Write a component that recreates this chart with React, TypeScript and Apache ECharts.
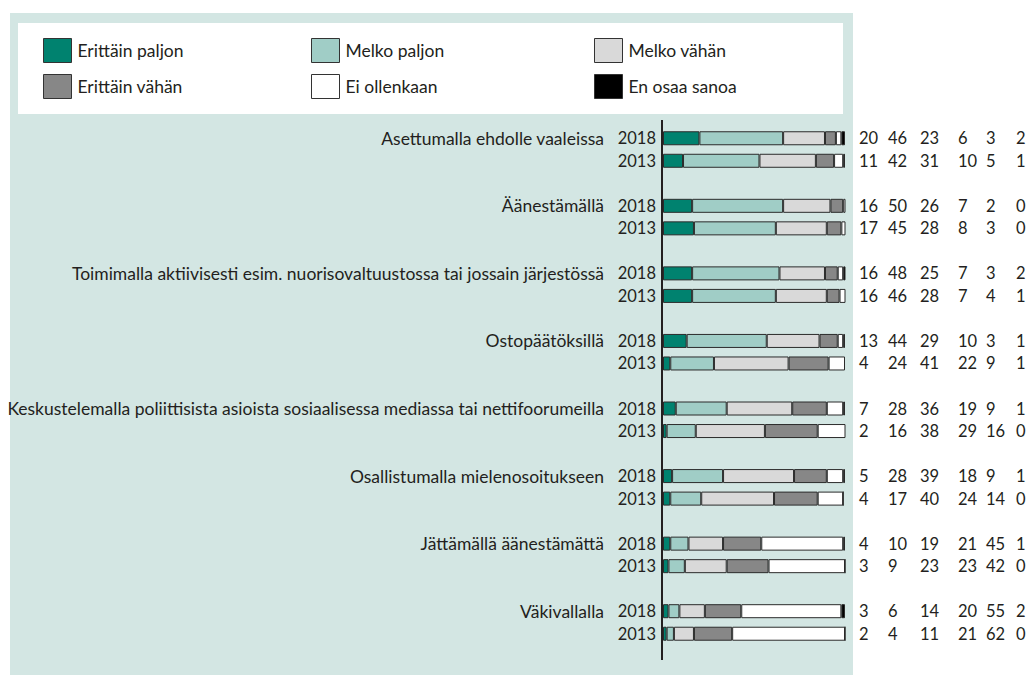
import React, { useEffect, useRef } from "react";
import * as echarts from "echarts";

const questions = [
  "Asettumalla ehdolle vaaleissa",
  "Äänestämällä",
  "Toimimalla aktiivisesti esim. nuorisovaltuustossa tai jossain järjestössä",
  "Ostopäätöksillä",
  "Keskustelemalla poliittisista asioista sosiaalisessa mediassa tai nettifoorumeilla",
  "Osallistumalla mielenosoitukseen",
  "Jättämällä äänestämättä",
  "Väkivallalla",
];

const years = ["2018", "2013"];

const seriesNames = [
  "Erittäin paljon",
  "Melko paljon",
  "Melko vähän",
  "Erittäin vähän",
  "Ei ollenkaan",
  "En osaa sanoa",
];

const values2018 = [
  [20, 46, 23, 6, 3, 2],
  [16, 50, 26, 7, 2, 0],
  [16, 48, 25, 7, 3, 2],
  [13, 44, 29, 10, 3, 1],
  [7, 28, 36, 19, 9, 1],
  [5, 28, 39, 18, 9, 1],
  [4, 10, 19, 21, 45, 1],
  [3, 6, 14, 20, 55, 2],
];

const values2013 = [
  [11, 42, 31, 10, 5, 1],
  [17, 45, 28, 8, 3, 0],
  [16, 46, 28, 7, 4, 1],
  [4, 24, 41, 22, 9, 1],
  [2, 16, 38, 29, 16, 0],
  [4, 17, 40, 24, 14, 0],
  [3, 9, 23, 23, 42, 0],
  [2, 4, 11, 21, 62, 0],
];

const colors = ["#00826f", "#a0cdc6", "#d9d9d9", "#878787", "#ffffff", "#000000"];

const TEXT = "#231f20";
const FONT = "Lato";

export default function App() {
  const ref = useRef<HTMLDivElement>(null);

  useEffect(() => {
    if (!ref.current) return;
    const chart = echarts.init(ref.current, null, { renderer: "svg" });

    // slots: for each question -> 2018, 2013, gap
    const slots: { q: number; y: number }[] = [];
    questions.forEach((_, qi) => {
      slots.push({ q: qi, y: 0 });
      slots.push({ q: qi, y: 1 });
      slots.push({ q: qi, y: -1 });
    });
    const cats = slots.map((s, i) => String(i));

    const rowVals = (s: { q: number; y: number }) =>
      s.y === 0 ? values2018[s.q] : s.y === 1 ? values2013[s.q] : null;

    const series = seriesNames.map((name, si) => ({
      name,
      type: "bar",
      stack: "total",
      barWidth: 14,
      itemStyle: { color: colors[si], borderColor: "#2b2b2b", borderWidth: 1 },
      emphasis: { disabled: true },
      data: slots.map((s) => {
        const v = rowVals(s);
        return v ? v[si] : null;
      }),
    }));

    const legendPos = [
      [43, 38],
      [311, 38],
      [594, 38],
      [43, 74],
      [311, 74],
      [594, 74],
    ];

    const legends = seriesNames.map((name, i) => ({
      data: [name],
      left: legendPos[i][0],
      top: legendPos[i][1],
      orient: "horizontal",
      itemWidth: 28,
      itemHeight: 24,
      itemGap: 0,
      padding: 0,
      icon: "rect",
      selectedMode: false,
      itemStyle: { borderColor: "#333", borderWidth: 1 },
      textStyle: { color: TEXT, fontSize: 17.5, fontFamily: FONT, padding: [0, 0, 0, 1] },
    }));

    chart.setOption({
      animation: false,
      textStyle: { fontFamily: FONT },
      graphic: [
        {
          type: "rect",
          z: -10,
          shape: { x: 10, y: 13, width: 843, height: 670 },
          style: { fill: "#d3e6e3" },
          silent: true,
        },
        {
          type: "rect",
          z: -9,
          shape: { x: 18, y: 23, width: 825, height: 91 },
          style: { fill: "#ffffff" },
          silent: true,
        },
        {
          type: "line",
          z: 10,
          shape: { x1: 662, y1: 120, x2: 662, y2: 660 },
          style: { stroke: TEXT, lineWidth: 2 },
          silent: true,
        },
      ],
      legend: legends,
      grid: { left: 663, top: 127, width: 182, height: 540.5, containLabel: false },
      xAxis: {
        type: "value",
        min: 0,
        max: 100,
        show: false,
      },
      yAxis: [
        {
          type: "category",
          data: cats,
          inverse: true,
          axisLine: { show: false },
          axisTick: { show: false },
          axisLabel: {
            interval: 0,
            margin: 7,
            color: TEXT,
            fontSize: 16,
            fontFamily: FONT,
            formatter: (val: string) => {
              const s = slots[Number(val)];
              if (s.y === -1) return "";
              if (s.y === 0) return `{q|${questions[s.q]}}{y|${years[0]}}`;
              return `{y|${years[1]}}`;
            },
            rich: {
              q: { color: TEXT, fontSize: 17.5, fontFamily: FONT, padding: [0, 12, 0, 0] },
              y: { color: TEXT, fontSize: 16.5, fontFamily: FONT, width: 40, align: "right" },
            },
          },
        },
        {
          type: "category",
          data: cats,
          inverse: true,
          position: "right",
          axisLine: { show: false },
          axisTick: { show: false },
          axisLabel: {
            interval: 0,
            margin: 14,
            color: TEXT,
            fontSize: 16.5,
            fontFamily: FONT,
            formatter: (val: string) => {
              const s = slots[Number(val)];
              const v = rowVals(s);
              if (!v) return "";
              return v.map((n, i) => `{c${i}|${n}}`).join("");
            },
            rich: {
              c0: { width: 29, align: "left", color: TEXT, fontSize: 16.5, fontFamily: FONT },
              c1: { width: 32, align: "left", color: TEXT, fontSize: 16.5, fontFamily: FONT },
              c2: { width: 38, align: "left", color: TEXT, fontSize: 16.5, fontFamily: FONT },
              c3: { width: 28, align: "left", color: TEXT, fontSize: 16.5, fontFamily: FONT },
              c4: { width: 30, align: "left", color: TEXT, fontSize: 16.5, fontFamily: FONT },
              c5: { width: 14, align: "left", color: TEXT, fontSize: 16.5, fontFamily: FONT },
            },
          },
        },
      ],
      series,
    });

    return () => chart.dispose();
  }, []);

  return (
    <div
      ref={ref}
      style={{ position: "fixed", left: 0, top: 0, width: 1032, height: 675, background: "#fff" }}
    />
  );
}
